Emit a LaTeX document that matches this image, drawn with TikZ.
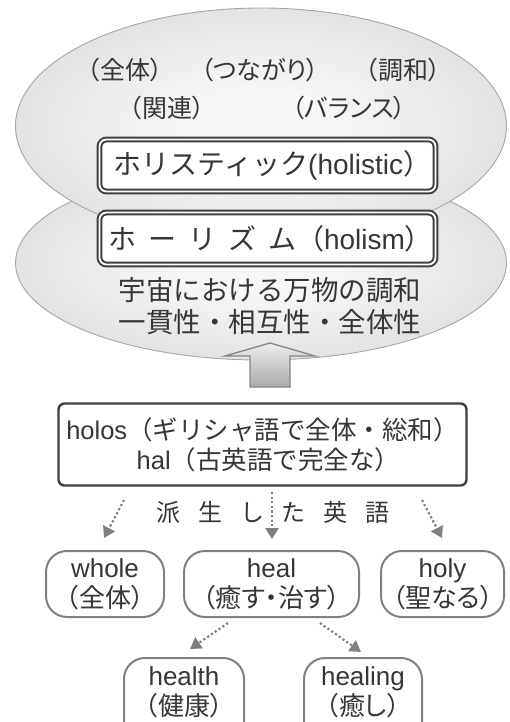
\documentclass[tikz,border=0pt]{standalone}
\usepackage{fontspec}
\setmainfont{Liberation Sans}
\newfontfamily\jp{Noto Sans CJK JP}
\newfontfamily\jpp[RawFeature={+palt}]{Noto Sans CJK JP}
\usetikzlibrary{shapes.geometric,arrows.meta}
\definecolor{txt}{HTML}{363636}
\definecolor{blobedge}{HTML}{A6A6A6}
\definecolor{blobin}{HTML}{F7F7F7}
\definecolor{blobout}{HTML}{C4C4C4}
\definecolor{pillline}{HTML}{808080}
\definecolor{boxline}{HTML}{3F3F3F}
\pgfdeclareradialshading{blobshade}{\pgfpoint{0bp}{0bp}}{color(0bp)=(blobin); color(8bp)=(blobin); color(50bp)=(blobout)}
\begin{document}
\begin{tikzpicture}[x=1pt,y=-1pt,
  blob/.style={ellipse, draw=blobedge, line width=0.9pt, shading=blobshade, minimum width=491pt, inner sep=0pt},
  dbox/.style={draw=boxline, line width=2pt, double=white, double distance=1.8pt, rounded corners=7pt, fill=white, minimum width=336pt, minimum height=52pt, inner sep=0pt, text=txt},
  hbox/.style={draw=boxline, line width=2.4pt, rounded corners=6pt, fill=white, minimum width=408pt, minimum height=82pt, inner sep=0pt, align=center, text=txt, font=\fontsize{25.5}{30}\selectfont},
  pill/.style={draw=pillline, line width=2pt, rounded corners=21pt, fill=white, minimum height=66pt, inner sep=0pt, align=center, text=txt, font=\fontsize{26}{30}\selectfont},
  plabel/.style={inner sep=0pt, align=center, text=txt, font=\fontsize{26}{30}\selectfont},
  lbl/.style={inner sep=0pt, text=txt, font=\jpp\fontsize{25}{30}\selectfont},
  body/.style={inner sep=0pt, align=center, text=txt, font=\jp\fontsize{27.5}{32}\selectfont},
  darr/.style={draw=pillline, line width=2.2pt, dash pattern=on 2.2pt off 2.4pt, -{Triangle[width=13pt,length=11pt]}},
  bigarrow/.style={top color=white!93!black, bottom color=black!33, draw=black!48, line width=1.3pt}
]
\useasboundingbox (0,0) rectangle (509,722);

% two stacked discs
\node[blob, minimum height=194pt] (lower) at (261,263) {};
\node[blob, minimum height=236pt] (upper) at (261,126) {};

% upper labels
\node[lbl] (l1) at (125,70) {（全体）};
\node[lbl] (l2) at (260,70) {（つながり）};
\node[lbl] (l3) at (403,70) {（調和）};
\node[lbl] (l4) at (167,108) {（関連）};
\node[lbl] (l5) at (349,108) {（バランス）};

% double boxes
\node[dbox, font=\fontsize{28}{32}\selectfont] (holistic) at (267.5,165.5) {\hspace{10pt}{\jp ホリスティック}(holistic{\jp ）}};
\node[dbox, font=\fontsize{28}{32}\selectfont] (holism) at (267.5,238.5) {\hspace{6pt}{\jp ホ\hspace{12pt}ー\hspace{12pt}リ\hspace{12pt}ズ\hspace{12pt}ム（}holism{\jp ）}};

% lower text
\node[body] (meaning) at (270,306) {宇宙における万物の調和\\一貫性・相互性・全体性};

% big up arrow
\shade[bigarrow] (270,343) -- (315,356) -- (290,356) -- (290,387) -- (250,387) -- (250,356) -- (225,356) -- cycle;

% origin box
\node[hbox] (holos) at (262.5,444.5) {holos{\jp （ギリシャ語で全体・総和）}\\\hspace{12pt}hal{\jp （古英語で完全な）}};

% derived label
\node[inner sep=0pt, text=txt, font=\jp\fontsize{24}{28}\selectfont] (derived) at (273,512)
  {派\hspace{17.8pt}生\hspace{17.8pt}し\hspace{17.8pt}た\hspace{17.8pt}英\hspace{17.8pt}語};

% derived words
\node[pill, minimum width=118pt] (whole) at (105,584) {whole\\{\jpp （全体）}};
\node[pill, minimum width=175pt] (heal) at (271.5,584) {heal\\{\jpp （癒す・治す）}};
\node[pill, minimum width=123pt] (holy) at (442.5,584) {holy\\{\jpp （聖なる）}};

\node[pill, minimum width=120pt, minimum height=90pt, anchor=north] (health) at (184,657) {};
\node[plabel] (healthtxt) at (184,692) {health\\{\jpp （健康）}};
\node[pill, minimum width=118pt, minimum height=90pt, anchor=north] (healing) at (363,657) {};
\node[plabel] (healingtxt) at (363,692) {healing\\{\jpp （癒し）}};

% dotted connectors
\coordinate (a1s) at (124,500); \coordinate (a1e) at (104,538);
\coordinate (a2s) at (272,492); \coordinate (a2e) at (272,539);
\coordinate (a3s) at (422,500); \coordinate (a3e) at (442,538);
\coordinate (b1s) at (228,623); \coordinate (b1e) at (190,649);
\coordinate (b2s) at (320,623); \coordinate (b2e) at (361,652);
\draw[darr] (a1s) -- (a1e);
\draw[darr] (a2s) -- (a2e);
\draw[darr] (a3s) -- (a3e);
\draw[darr] (b1s) -- (b1e);
\draw[darr] (b2s) -- (b2e);
\end{tikzpicture}
\end{document}
